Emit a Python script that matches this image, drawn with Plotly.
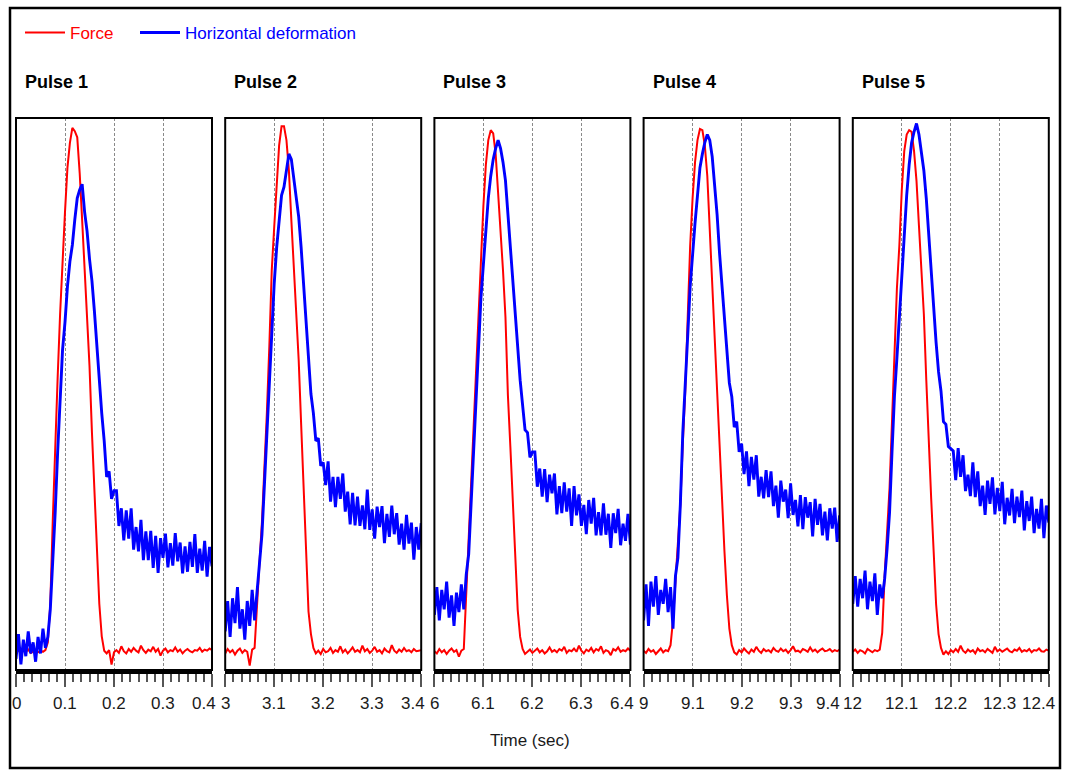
import plotly.graph_objects as go

# ---------------- data ----------------
STEP = 0.005  # sampling interval of the listed values, seconds
pulse_starts = [0, 3, 6, 9, 12]
pulse_names = ["Pulse 1", "Pulse 2", "Pulse 3", "Pulse 4", "Pulse 5"]
tick_labels = [
    ["0", "0.1", "0.2", "0.3", "0.4"],
    ["3", "3.1", "3.2", "3.3", "3.4"],
    ["6", "6.1", "6.2", "6.3", "6.4"],
    ["9", "9.1", "9.2", "9.3", "9.4"],
    ["12", "12.1", "12.2", "12.3", "12.4"],
]

force_p1 = [3.2, 3.6, 3.0, 3.5, 3.3, 3.7, 3.1, 3.4, 3.6, 3.2, 3.5, 3.3, 3.6,
            5.0, 12.0, 27.0, 41.8, 53.0, 64.5, 74.5, 83.0, 91.0, 95.5, 98.2, 97.6, 96.5,
            90.0, 81.5, 73.0, 63.5, 55.1, 43.0, 31.9, 22.0, 12.0, 6.1, 3.5, 3.0, 3.6, 1.0, 3.2,
            3.6, 3.1, 4.3, 3.4, 3.0, 3.8, 3.3, 4.0, 3.5, 3.2, 4.4, 3.6, 3.1, 3.7, 3.4, 4.2,
            3.3, 3.8, 2.6, 3.5, 3.9, 3.2, 3.6, 3.4, 4.1, 3.3, 3.7, 3.0, 3.5, 3.8, 3.4, 3.2,
            3.6, 3.5, 4.0, 3.3, 3.7, 3.5, 3.9, 3.6]
deform_p1 = [2.0, 6.5, 1.0, 5.5, 2.5, 7.0, 3.0, 5.0, 1.5, 6.0, 3.0, 7.5, 4.0,
             6.0, 11.0, 19.0, 28.6, 39.5, 49.0, 58.0, 63.0, 69.5, 74.0, 77.0, 81.6,
             85.5, 87.0, 88.0, 83.0, 79.5, 74.5, 70.5, 65.0, 58.5, 52.0, 46.5,
             41.5, 35.0, 36.0, 31.0, 32.5,
             32.5, 26.1, 29.3, 23.5, 28.9, 23.8, 29.3, 21.8, 25.9, 21.5, 27.2, 19.9, 25.1,
             19.9, 25.2, 18.5, 24.3, 17.6, 23.9, 20.3, 24.7, 18.6, 23.0, 18.9, 24.8, 19.7,
             23.1, 17.5, 22.4, 17.8, 23.2, 18.7, 24.6, 17.6, 22.0, 18.0, 23.4, 16.9, 22.3, 18.8]

force_p2 = [3.0, 3.8, 3.2, 3.6, 2.8, 3.5, 3.9, 3.1, 3.6, 3.3, 0.8, 3.7, 4.0,
            13.0, 19.5, 26.8, 36.0, 46.5, 58.5, 72.4, 80.2, 88.5, 95.0, 98.5, 98.5, 96.0,
            90.5, 81.5, 72.4, 65.8, 56.1, 44.5, 32.5, 21.5, 10.6, 6.5, 4.0, 3.0,
            3.5, 2.9, 3.8, 3.2, 3.4, 4.0, 3.1, 3.6, 3.3, 4.3, 3.2, 3.7, 3.0, 3.5, 4.1, 3.3,
            3.6, 3.2, 4.4, 3.4, 3.8, 3.1, 3.5, 4.2, 3.3, 3.6, 3.0, 3.9, 3.4, 3.2, 4.5, 3.5,
            3.1, 3.7, 3.3, 4.0, 3.4, 3.6, 3.2, 3.8, 3.4, 3.5, 3.6]
deform_p2 = [7.0, 12.5, 6.0, 13.0, 8.5, 15.0, 7.5, 11.0, 5.5, 12.5, 8.0, 14.5, 9.0,
             14.0, 18.0, 24.5, 33.5, 43.1, 52.5, 62.5, 70.0, 76.5, 82.0, 86.0, 87.5,
             90.5, 93.5, 92.5, 89.0, 86.0, 82.1, 76.5, 70.0, 62.5, 56.1, 50.0,
             46.5, 41.5, 42.0, 37.0, 37.6,
             33.5, 37.8, 30.5, 35.0, 29.5, 35.0, 31.0, 35.6, 28.7, 32.3, 26.4, 32.1, 26.2,
             31.4, 26.1, 29.8, 25.5, 32.7, 25.4, 29.1, 23.8, 29.6, 25.9, 29.7, 23.0, 28.3,
             24.1, 29.8, 24.6, 28.4, 22.7, 26.5, 21.8, 28.1, 22.9, 26.7, 20.0, 25.9, 21.8, 26.6]

force_p3 = [3.4, 3.0, 3.8, 3.2, 3.6, 2.9, 3.5, 3.9, 3.3, 3.6, 2.4, 3.5, 3.8,
            14.0, 23.5, 33.5, 44.0, 53.0, 62.0, 74.4, 84.1, 91.5, 96.0, 97.8, 97.2, 93.5,
            87.0, 79.5, 72.4, 64.0, 49.8, 40.5, 31.5, 21.5, 10.9, 6.0, 3.8, 2.9,
            3.3, 3.7, 3.1, 3.5, 3.9, 3.2, 3.6, 3.0, 3.4, 4.1, 3.3, 3.6, 3.2, 3.8, 3.5, 4.2,
            3.1, 3.6, 3.4, 3.9, 3.3, 4.4, 3.5, 3.0, 3.7, 3.4, 4.0, 3.2, 3.8, 3.5, 4.3, 3.1,
            3.6, 3.4, 2.7, 3.8, 3.5, 4.1, 3.3, 3.6, 3.4, 3.9, 3.5]
deform_p3 = [10.0, 15.0, 9.0, 14.5, 11.0, 16.0, 9.5, 13.5, 8.0, 14.0, 10.5, 15.5, 11.0,
             17.3, 21.0, 30.0, 40.0, 49.8, 59.0, 67.5, 73.5, 79.5, 85.5, 89.5, 92.5,
             94.5, 96.0, 94.5, 92.0, 88.7, 82.5, 76.5, 71.0, 65.5, 58.0, 52.5,
             48.0, 43.5, 43.0, 38.5, 39.5,
             39.5, 33.2, 36.5, 31.4, 36.4, 30.4, 35.4, 32.0, 35.6, 28.2, 33.3, 28.4, 34.0,
             28.7, 32.9, 26.1, 33.3, 28.0, 31.8, 26.1, 29.9, 24.6, 30.8, 26.5, 31.2, 24.4,
             28.6, 24.4, 30.2, 24.5, 28.3, 22.1, 28.4, 24.8, 29.2, 22.6, 26.5, 23.4, 28.3, 22.7]

force_p4 = [3.5, 3.1, 3.8, 3.3, 3.6, 2.9, 3.4, 3.9, 3.2, 3.6, 3.4,
            4.5, 9.0, 16.5, 23.5, 30.0, 41.1, 50.5, 63.8, 76.8, 85.5, 92.0, 96.0, 98.0,
            97.8, 95.0, 89.5, 79.5, 70.0, 61.2, 51.5, 42.0, 31.5, 21.5, 13.5, 7.5, 4.5, 3.2,
            2.8, 3.6, 3.2, 3.9, 3.4, 3.0, 3.7, 3.3, 4.2, 3.5, 3.1, 3.8, 3.4, 3.6, 3.2, 4.0,
            3.5, 3.3, 3.9, 3.4, 3.7, 3.1, 3.6, 4.3, 3.4, 3.5, 3.2, 3.8, 3.6, 3.3, 4.1, 3.4,
            3.7, 3.2, 3.6, 3.9, 3.4, 3.5, 3.8, 3.3, 3.6, 3.4, 3.7]
deform_p4 = [9.0, 15.5, 8.0, 16.0, 11.5, 17.0, 10.0, 14.5, 12.0, 16.5, 10.5, 15.0, 7.5,
             17.0, 20.3, 30.0, 43.0, 51.0, 60.5, 69.5, 76.0, 81.0, 86.0, 91.0, 93.5,
             95.6, 97.0, 96.0, 93.0, 88.4, 82.5, 75.5, 69.5, 63.5, 57.5, 52.0,
             49.5, 44.0, 45.0, 39.5, 41.0,
             35.5, 39.6, 33.3, 38.6, 34.5, 38.9, 31.4, 35.0, 31.1, 36.2, 31.3, 36.0, 29.7,
             33.4, 27.6, 34.3, 30.5, 32.7, 27.5, 33.8, 28.1, 30.8, 26.0, 31.7, 25.5, 31.3,
             27.6, 30.4, 24.2, 31.0, 26.3, 30.1, 24.4, 28.7, 23.5, 29.3, 25.6, 29.4, 23.2, 28.0]

force_p5 = [3.3, 3.7, 3.1, 3.6, 3.4, 3.0, 3.8, 3.5, 3.2, 3.6, 3.4, 3.7,
            6.7, 17.1, 24.0, 33.0, 45.0, 58.5, 69.1, 76.9, 87.0, 94.0, 97.0, 97.8, 97.5,
            94.0, 88.6, 80.5, 72.5, 64.5, 52.5, 40.5, 31.0, 21.5, 11.9, 6.5, 4.0, 2.8,
            3.4, 2.9, 3.6, 3.2, 3.8, 3.3, 4.4, 3.5, 3.1, 3.7, 3.3, 3.6, 3.0, 3.9, 3.4, 3.6,
            3.2, 3.8, 3.5, 3.1, 4.2, 3.4, 3.7, 3.3, 3.6, 3.9, 3.4, 3.2, 3.7, 3.5, 4.0, 3.3,
            3.6, 3.4, 3.8, 3.2, 3.6, 3.5, 3.9, 3.4, 3.3, 3.7, 3.5]
deform_p5 = [12.0, 17.0, 11.5, 16.5, 13.0, 18.0, 11.0, 16.0, 12.5, 17.5, 10.0, 15.5, 13.0,
             16.5, 22.0, 28.5, 39.5, 49.6, 56.5, 64.0, 71.0, 78.5, 86.0, 91.5, 95.5,
             97.5, 99.0, 97.0, 93.5, 90.5, 85.4, 78.5, 72.0, 66.5, 59.3, 54.0,
             50.5, 45.0, 44.5, 40.5, 40.0,
             39.7, 34.4, 40.2, 35.0, 38.9, 32.4, 35.4, 31.5, 37.6, 31.3, 36.0, 29.7, 33.4,
             28.1, 34.3, 30.1, 34.9, 28.2, 33.0, 28.8, 34.1, 26.4, 31.2, 28.0, 32.8, 26.6,
             31.4, 27.7, 32.5, 25.3, 30.6, 27.0, 31.4, 24.8, 29.2, 25.6, 31.0, 23.9, 29.8, 26.7]

force_series = [force_p1, force_p2, force_p3, force_p4, force_p5]
deform_series = [deform_p1, deform_p2, deform_p3, deform_p4, deform_p5]

# ---------------- layout ----------------
W, H = 1065, 771
FONT = "Liberation Sans, Arial, sans-serif"
PANEL_LEFT, PANEL_PITCH, PANEL_W = 16, 209.2, 196
TOP_PX, BOTTOM_PX = 118, 670
ydom = [1 - BOTTOM_PX / H, 1 - TOP_PX / H]
LABEL_Y = 1 - 703 / H

fig = go.Figure()
annotations = []
shapes = []

for k in range(5):
    sfx = "" if k == 0 else str(k + 1)
    xa, ya = "x" + sfx, "y" + sfx
    t0 = pulse_starts[k]
    tf = [t0 + STEP * i for i in range(len(force_series[k]))]
    td = [t0 + STEP * i for i in range(len(deform_series[k]))]
    fig.add_trace(go.Scatter(
        x=tf, y=force_series[k], mode="lines", xaxis=xa, yaxis=ya,
        line=dict(color="#ff0000", width=2),
        name='<span style="color:#ff0000">Force</span>',
        legend="legend", legendgroup="force", showlegend=(k == 0), hoverinfo="skip"))
    fig.add_trace(go.Scatter(
        x=td, y=deform_series[k], mode="lines", xaxis=xa, yaxis=ya,
        line=dict(color="#0000ff", width=2.9),
        name='<span style="color:#0000ff">Horizontal deformation</span>',
        legend="legend2", legendgroup="deform", showlegend=(k == 0), hoverinfo="skip"))

    left = PANEL_LEFT + PANEL_PITCH * k
    major = [t0 + 0.1 * j for j in range(5)]
    fig.layout["xaxis" + sfx] = dict(
        domain=[left / W, (left + PANEL_W) / W], range=[t0, t0 + 0.4], anchor=ya,
        showline=True, linewidth=4, linecolor="black", mirror=False,
        ticks="outside", tickvals=major, ticklen=13, tickwidth=1.5, tickcolor="#555555",
        showticklabels=False,
        showgrid=True, gridcolor="#8a8a8a", gridwidth=1, griddash="3px,2px",
        minor=dict(ticks="outside", tick0=t0, dtick=0.1 / 6, ticklen=8,
                   tickwidth=1.5, tickcolor="#555555", showgrid=False),
        zeroline=False, fixedrange=True)
    fig.layout["yaxis" + sfx] = dict(
        domain=ydom, range=[0, 100], anchor=xa, showline=False, showgrid=False,
        zeroline=False, showticklabels=False, ticks="", fixedrange=True)

    shapes.append(dict(type="rect", xref=xa + " domain", yref=ya + " domain",
                       x0=0, x1=1, y0=0, y1=1, line=dict(color="black", width=2),
                       layer="above"))

    for j, lab in enumerate(tick_labels[k]):
        anchor, shift = "center", 0
        if j == 4:
            anchor = "right"
            shift = 8 if k == 4 else (2 if k == 3 else 6)
        annotations.append(dict(
            x=major[j], xref=xa, y=LABEL_Y, yref="paper", text=lab,
            showarrow=False, xanchor=anchor, xshift=shift, yanchor="middle",
            font=dict(family=FONT, size=17, color="#1a1a1a")))

    annotations.append(dict(
        x=(left + 7) / W, xref="paper", y=1 - 82 / H, yref="paper",
        text="<b>%s</b>" % pulse_names[k], showarrow=False, xanchor="left",
        yanchor="middle", font=dict(family=FONT, size=18, color="black")))

annotations.append(dict(
    x=530 / W, xref="paper", y=1 - 740 / H, yref="paper", text="Time (sec)",
    showarrow=False, xanchor="center", yanchor="middle",
    font=dict(family=FONT, size=17, color="#1a1a1a")))

shapes.append(dict(type="rect", xref="paper", yref="paper",
                   x0=10 / W, x1=1060 / W, y0=1 - 768 / H, y1=1 - 8 / H,
                   line=dict(color="black", width=2.5), layer="above"))

legend_style = dict(orientation="h", xanchor="left", yanchor="middle",
                    y=1 - 33 / H, bgcolor="rgba(0,0,0,0)",
                    font=dict(family=FONT, size=17), itemwidth=40)

fig.update_layout(
    width=W, height=H, margin=dict(l=0, r=0, t=0, b=0),
    paper_bgcolor="white", plot_bgcolor="white",
    font=dict(family=FONT, size=17, color="black"),
    showlegend=True,
    legend=dict(x=20 / W, **legend_style),
    legend2=dict(x=135 / W, **legend_style),
    annotations=annotations, shapes=shapes,
)

fig.write_html("out.html")
